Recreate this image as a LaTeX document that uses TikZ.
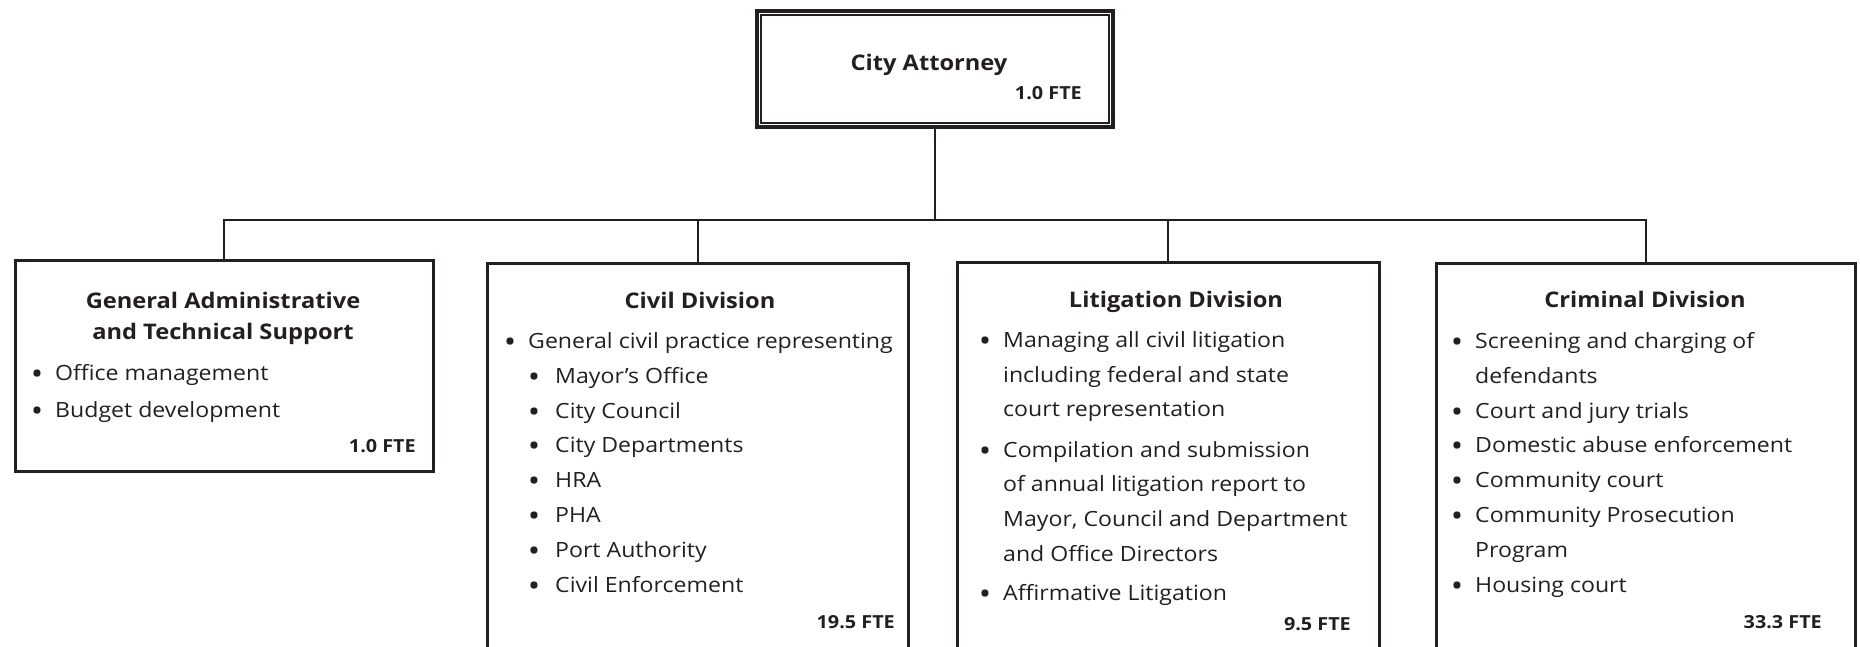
\documentclass[tikz,border=0pt]{standalone}
\usepackage{fontspec}
\setmainfont{Open Sans}[FakeStretch=1.1]
\definecolor{ink}{HTML}{231F20}
\tikzset{
  divbox/.style={draw=ink, line width=3pt, rectangle, anchor=north west, inner sep=0pt, minimum width=#1},
  conn/.style={draw=ink, line width=2pt},
  txt/.style={anchor=base west, inner sep=0pt, text=ink, font=\fontsize{21}{24}\selectfont},
  blt/.style={anchor=base, inner sep=0pt, text=ink, yshift=-4.5pt, font=\fontsize{30}{24}\selectfont},
  ttl/.style={anchor=base, inner sep=0pt, text=ink, font=\bfseries\fontsize{21.5}{24}\selectfont},
  fte/.style={anchor=base east, inner sep=0pt, text=ink, font=\bfseries\fontsize{18}{20}\selectfont}
}
\newcommand\itm[5]{\node[blt] (#1b) at (#2,#4) {\textbullet}; \node[txt] (#1) at (#3,#4) {#5};}
\newcommand\cont[4]{\node[txt] (#1) at (#2,#3) {#4};}
\begin{document}
\begin{tikzpicture}[x=1pt,y=-1pt]
\useasboundingbox (0,0) rectangle (1860,647);
\clip (0,0) rectangle (1860,647);
% top box
\node[draw=ink, line width=4pt, rectangle, anchor=north west, inner sep=0pt, minimum width=356pt, minimum height=116pt] (ca) at (755,9) {};
\draw[ink, line width=1.5pt] ([shift={(6,6)}]ca.north west) rectangle ([shift={(-6,-6)}]ca.south east);
\node[ttl] (cat) at (929,71) {City Attorney};
\node[fte] (caf) at (1082,100) {1.0 FTE};
% division boxes
\node[divbox=418pt, minimum height=211pt] (b1) at (13.5,258.5) {};
\node[divbox=421pt, minimum height=450pt] (b2) at (485.5,261.5) {};
\node[divbox=422pt, minimum height=450pt] (b3) at (955.5,260.5) {};
\node[divbox=419pt, minimum height=450pt] (b4) at (1434.5,261.5) {};
% connectors
\coordinate (bus) at (931,220);
\draw[conn] (ca.south) -- (ca.south |- bus);
\draw[conn] (b1.north) |- (bus) -| (b4.north);
\draw[conn] (b2.north) -- (b2.north |- bus);
\draw[conn] (b3.north) -- (b3.north |- bus);
% box 1
\node[ttl] (t1a) at (223,308) {General Administrative};
\node[ttl] (t1b) at (223,339) {and Technical Support};
\itm{a1}{37}{55}{380}{Office management}
\itm{a2}{37}{55}{417}{Budget development}
\node[fte] (f1) at (416,452) {1.0 FTE};
% box 2
\node[ttl] (t2) at (700,308) {Civil Division};
\itm{c1}{510}{528}{348}{General civil practice representing}
\itm{c2}{534}{555}{383}{Mayor’s Office}
\itm{c3}{534}{555}{418}{City Council}
\itm{c4}{534}{555}{452}{City Departments}
\itm{c5}{534}{555}{487}{HRA}
\itm{c6}{534}{555}{522}{PHA}
\itm{c7}{534}{555}{557}{Port Authority}
\itm{c8}{534}{555}{592}{Civil Enforcement}
\node[fte] (f2) at (895,628) {19.5 FTE};
% box 3
\node[ttl] (t3) at (1176,307) {Litigation Division};
\itm{l1}{985}{1003}{347}{Managing all civil litigation}
\cont{l1b}{1003}{382}{including federal and state}
\cont{l1c}{1003}{416}{court representation}
\itm{l2}{985}{1003}{457}{Compilation and submission}
\cont{l2b}{1003}{491}{of annual litigation report to}
\cont{l2c}{1003}{526}{Mayor, Council and Department}
\cont{l2d}{1003}{561}{and Office Directors}
\itm{l3}{985}{1003}{600}{Affirmative Litigation}
\node[fte] (f3) at (1351,630) {9.5 FTE};
% box 4
\node[ttl] (t4) at (1645,307) {Criminal Division};
\itm{k1}{1457}{1475}{348}{Screening and charging of}
\cont{k1b}{1475}{383}{defendants}
\itm{k2}{1457}{1475}{418}{Court and jury trials}
\itm{k3}{1457}{1475}{452}{Domestic abuse enforcement}
\itm{k4}{1457}{1475}{487}{Community court}
\itm{k5}{1457}{1475}{522}{Community Prosecution}
\cont{k5b}{1475}{557}{Program}
\itm{k6}{1457}{1475}{592}{Housing court}
\node[fte] (f4) at (1822,628) {33.3 FTE};
\end{tikzpicture}
\end{document}
